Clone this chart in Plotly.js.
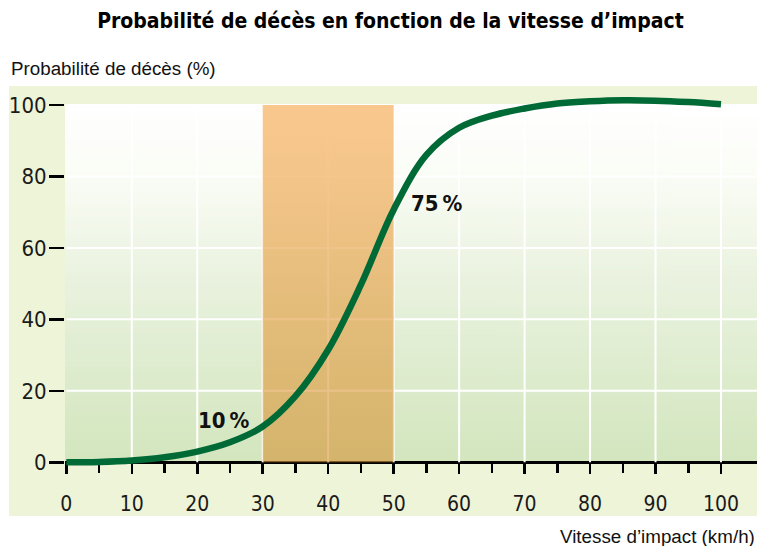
<!DOCTYPE html>
<html><head><meta charset="utf-8">
<script src="https://cdn.plot.ly/plotly-3.0.1.min.js"></script>
<style>html,body{margin:0;padding:0;background:#fff;}#chart{width:759px;height:546px;}</style>
</head><body><div id="chart"></div>
<script>
// ---- data ----
const speed = [0, 5, 10, 15, 20, 25, 30, 35, 40, 45, 50, 55, 60, 65, 70, 75, 80, 85, 90, 95, 100];
const probability = [0, 0.1, 0.5, 1.4, 3, 5.6, 10, 18.5, 31.5, 49.7, 70.7, 86, 93.6, 97, 99, 100.4, 101, 101.3, 101.2, 100.8, 100.2];
const bandSpeed = [30, 50];
const bandProb = [0, 100];
const xTicks = [0, 10, 20, 30, 40, 50, 60, 70, 80, 90, 100];
const xMinorTicks = [5, 15, 25, 35, 45, 55, 65, 75, 85, 95];
const yTicks = [0, 20, 40, 60, 80, 100];
const labelTexts = ["10\u2009%", "75\u2009%"];
const labelSpeed = [24.0, 56.6];
const labelProb = [11.8, 72.3];

const xRange = [-0.2, 105.5];
const yRange = [-1.6, 105.3];
const panel = '#eef4d8';
const narrow = "'DejaVu Sans Condensed', 'Liberation Sans Narrow', sans-serif";
const regular = "'Liberation Sans', Arial, sans-serif";

// background gradient image
const cv = document.createElement('canvas'); cv.width = 4; cv.height = 256;
const ctx = cv.getContext('2d');
const g = ctx.createLinearGradient(0, 0, 0, 256);
g.addColorStop(0, '#ffffff'); g.addColorStop(0.18, '#fbfdf7'); g.addColorStop(0.5, '#e9f2de'); g.addColorStop(1, '#d3e6be');
ctx.fillStyle = g; ctx.fillRect(0, 0, 4, 256);
const bgURL = cv.toDataURL();

// grid lines (white) from tick arrays
const gx = [], gy = [];
xTicks.slice(1).forEach(v => { gx.push(v, v, null); gy.push(yTicks[0], yTicks[yTicks.length - 1], null); });
yTicks.slice(1).forEach(v => { gx.push(xTicks[0], xRange[1], null); gy.push(v, v, null); });

const traces = [
  {x: gx, y: gy, mode: 'lines', line: {color: '#ffffff', width: 2}, hoverinfo: 'skip', showlegend: false},
  {x: [bandSpeed[0], bandSpeed[1], bandSpeed[1], bandSpeed[0], bandSpeed[0]],
   y: [bandProb[0], bandProb[0], bandProb[1], bandProb[1], bandProb[0]],
   mode: 'lines', fill: 'toself', line: {width: 0}, opacity: 0.6,
   fillgradient: {type: 'vertical', colorscale: [[0, '#d59335'], [1, '#f5a343']]},
   hoverinfo: 'skip', showlegend: false},
  {x: speed, y: probability, mode: 'lines', line: {color: '#006a36', width: 6.5, shape: 'spline', smoothing: 1},
   showlegend: false}
];

const layout = {
  width: 759, height: 546,
  margin: {l: 65, r: 2, t: 86, b: 78},
  paper_bgcolor: '#ffffff', plot_bgcolor: panel,
  showlegend: false,
  title: {text: "<b>Probabilité de décès en fonction de la vitesse d’impact</b>",
          font: {family: narrow, size: 21, color: '#000'}, x: 0.5145, xanchor: 'center', y: 0.962, yanchor: 'middle'},
  xaxis: {range: xRange, anchor: 'free', position: (0 - yRange[0]) / (yRange[1] - yRange[0]),
          showgrid: false, zeroline: false, showline: true, linecolor: '#000', linewidth: 2.5,
          layer: 'below traces',
          tickmode: 'array', tickvals: xTicks, ticks: 'outside', ticklen: 10, tickwidth: 2.5, tickcolor: '#000',
          minor: {tickmode: 'array', tickvals: xMinorTicks, ticks: 'outside', ticklen: 9, tickwidth: 2.5, tickcolor: '#000', showgrid: false},
          tickfont: {family: narrow, size: 21, color: '#1a1a1a'}, ticklabelstandoff: 12, fixedrange: true},
  yaxis: {range: yRange, showgrid: false, zeroline: false, showline: false,
          tickmode: 'array', tickvals: yTicks, ticks: 'outside', ticklen: 15, tickwidth: 2.5, tickcolor: '#000',
          tickfont: {family: narrow, size: 22, color: '#1a1a1a'}, ticklabelstandoff: -2, fixedrange: true},
  images: [{source: bgURL, xref: 'x', yref: 'y', x: xRange[0], y: yTicks[yTicks.length - 1],
            sizex: xRange[1] - xRange[0], sizey: yTicks[yTicks.length - 1] - yTicks[0],
            sizing: 'stretch', xanchor: 'left', yanchor: 'top', layer: 'below'}],
  shapes: [
    {type: 'rect', xref: 'paper', yref: 'paper', x0: -0.0809, x1: 1, y0: -0.1257, y1: 1,
     fillcolor: panel, line: {width: 0}, layer: 'below'},
    {type: 'line', xref: 'x', yref: 'y', x0: xTicks[0], x1: xTicks[0], y0: yTicks[0], y1: yTicks[yTicks.length - 1],
     line: {color: '#000', width: 2.5}, layer: 'below'}
  ],
  annotations: [
    {text: '<b>' + labelTexts[0] + '</b>', x: labelSpeed[0], y: labelProb[0], xref: 'x', yref: 'y', showarrow: false,
     font: {family: narrow, size: 22, color: '#111'}, xanchor: 'center', yanchor: 'middle'},
    {text: '<b>' + labelTexts[1] + '</b>', x: labelSpeed[1], y: labelProb[1], xref: 'x', yref: 'y', showarrow: false,
     font: {family: narrow, size: 22, color: '#111'}, xanchor: 'center', yanchor: 'middle'},
    {text: "Probabilité de décès (%)", xref: 'paper', yref: 'paper', x: -0.0809, y: 1.045,
     xanchor: 'left', yanchor: 'middle', showarrow: false,
     font: {family: regular, size: 18.8, color: '#111'}},
    {text: "Vitesse d’impact (km/h)", xref: 'paper', yref: 'paper', x: 1, y: -0.18,
     xanchor: 'right', yanchor: 'middle', showarrow: false,
     font: {family: regular, size: 18.8, color: '#111'}}
  ]
};

Plotly.newPlot('chart', traces, layout, {displayModeBar: false, staticPlot: true});
</script></body></html>
